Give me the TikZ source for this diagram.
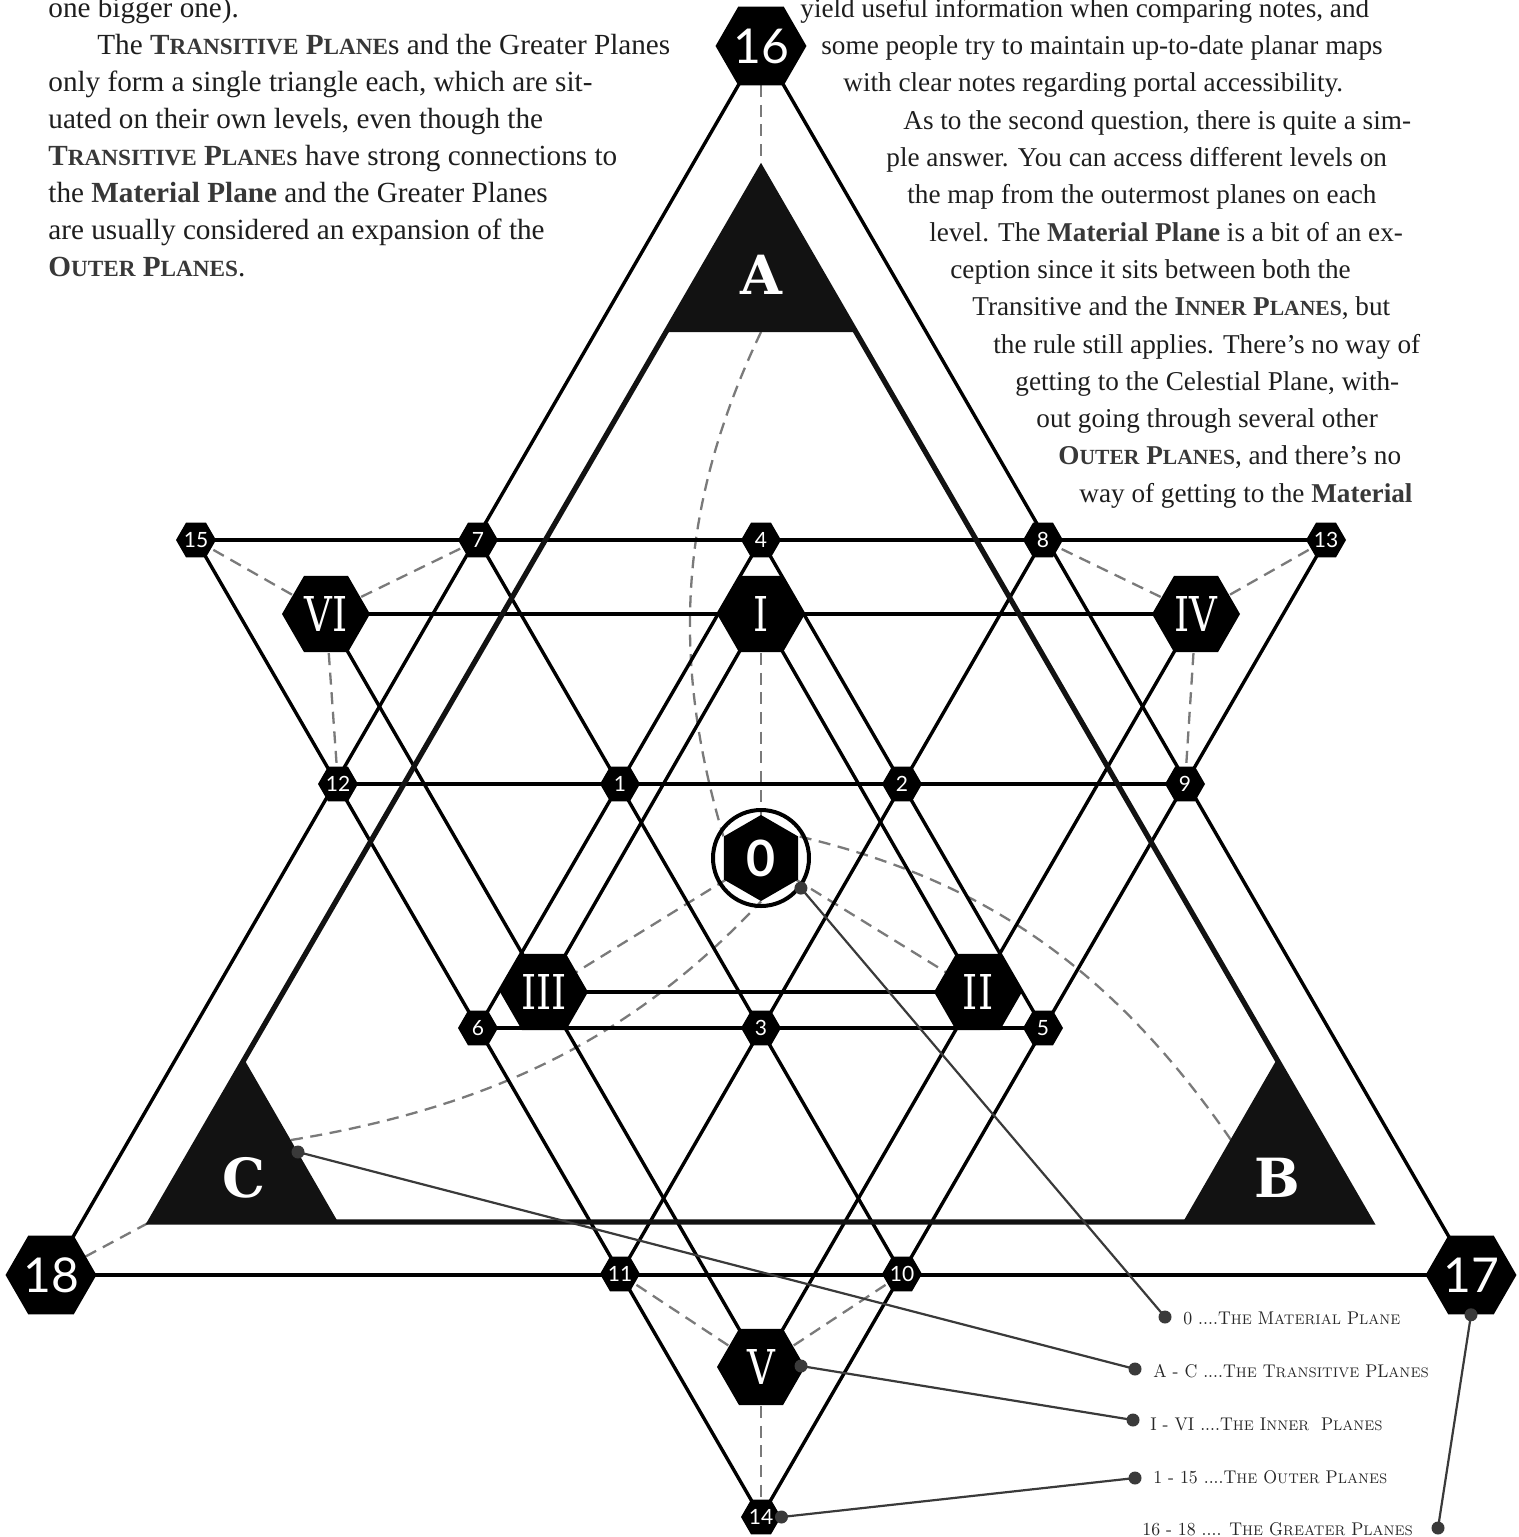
\documentclass[tikz,border=0pt]{standalone}
\usepackage{fontspec}
\usetikzlibrary{shapes.geometric}
\setmainfont{Liberation Serif}
\newfontfamily\numfont{Lato}
\newfontfamily\romfont[FakeStretch=0.8]{DejaVu Serif}
\newfontfamily\abcfont{DejaVu Serif}
\newfontfamily\legfont[FakeStretch=0.94]{Latin Modern Roman}
\definecolor{ink}{HTML}{1E1E1E}
\definecolor{boldc}{HTML}{383838}
\definecolor{dashc}{HTML}{7A7A7A}
\definecolor{legc}{HTML}{3A3A3A}
\definecolor{trifill}{HTML}{121212}
\newcommand\sm[1]{{\fontsize{11.6pt}{12pt}\selectfont #1}}
\newcommand\smr[1]{{\fontsize{10.8pt}{12pt}\selectfont #1}}
\newcommand\bsc[1]{{\bfseries\color{boldc}#1}}
\newcommand\ls[1]{{\fontsize{6.95pt}{8pt}\selectfont #1}}
\pgfdeclarelayer{paper}
\pgfdeclarelayer{dashes}
\pgfdeclarelayer{lines}
\pgfdeclarelayer{top}
\pgfsetlayers{paper,dashes,lines,main,top}
\begin{document}
\begin{tikzpicture}[x=0.5pt,y=-0.5pt,
  hexG/.style={regular polygon,regular polygon sides=6,minimum size=44pt,inner sep=0pt,fill=black,text=white,font=\numfont\fontsize{24pt}{24pt}\selectfont},
  hexI/.style={regular polygon,regular polygon sides=6,minimum size=44pt,inner sep=0pt,fill=black,text=white,font=\romfont\fontsize{24pt}{24pt}\selectfont},
  hexO/.style={regular polygon,regular polygon sides=6,minimum size=20pt,inner sep=0pt,fill=black,text=white,font=\numfont\fontsize{10.5pt}{10.5pt}\selectfont},
  lat/.style={line width=1.7pt,black},
  thicktri/.style={line width=2.6pt,trifill},
  dsh/.style={dashc,line width=1.15pt,dash pattern=on 6pt off 3.8pt},
  leg/.style={legc,line width=1.1pt},
  dot/.style={circle,fill=legc,inner sep=0pt,minimum size=6.5pt},
  abc/.style={inner sep=0pt,text=white,font=\abcfont\bfseries\fontsize{27pt}{27pt}\selectfont},
  bodyl/.style={anchor=base west,inner sep=0pt,text=ink,font=\fontsize{14.6pt}{17pt}\selectfont},
  bodyr/.style={anchor=base west,inner sep=0pt,text=ink,font=\fontsize{13.6pt}{17pt}\selectfont},
  legtext/.style={anchor=base west,inner sep=0pt,text=black!85,font=\legfont\fontsize{9.2pt}{10pt}\selectfont}
]
\useasboundingbox (0,0) rectangle (1519,1537);
\begin{pgfonlayer}{paper}
\fill[white] (0,0) rectangle (1519,1537);
\end{pgfonlayer}

% ---------- transitive triangle ----------
\coordinate (TA) at (761,168);
\coordinate (TB) at (1371,1222);
\coordinate (TC) at (150,1222);
\coordinate (Aedge) at (761,332);
\coordinate (Bedge) at (1231,1140);
\coordinate (Cedge) at (291,1140);
\draw[thicktri] (TA) -- (TB) -- (TC) -- cycle;
\fill[trifill] (TA) -- ++(94,164) -- ++(-188,0) -- cycle;
\fill[trifill] (TB) -- ++(-188,0) -- ++(94,-163) -- cycle;
\fill[trifill] (TC) -- ++(188,0) -- ++(-94,-163) -- cycle;
\node[abc] (la) at (761,275) {A};
\node[abc] (lb) at (1277,1178) {B};
\node[abc] (lc) at (244,1178) {C};

% ---------- nodes ----------
\node[hexG] (g16) at (761,46) {16};
\node[hexG] (g17) at (1471,1275) {17};
\node[hexG] (g18) at (51,1275) {18};
\node[hexO] (o15) at (196,540) {15};
\node[hexO] (o7) at (478,540) {7};
\node[hexO] (o4) at (761,540) {4};
\node[hexO] (o8) at (1043,540) {8};
\node[hexO] (o13) at (1326,540) {13};
\node[hexO] (o12) at (338,784) {12};
\node[hexO] (o1) at (620,784) {1};
\node[hexO] (o2) at (902,784) {2};
\node[hexO] (o9) at (1185,784) {9};
\node[hexO] (o6) at (478,1028) {6};
\node[hexO] (o3) at (761,1028) {3};
\node[hexO] (o5) at (1043,1028) {5};
\node[hexO] (o11) at (620,1274) {11};
\node[hexO] (o10) at (902,1274) {10};
\node[hexO] (o14) at (761,1517) {14};
\node[hexI] (iI) at (761,614) {I};
\node[hexI] (iII) at (978,992) {II};
\node[hexI] (iIII) at (544,992) {III};
\node[hexI] (iIV) at (1196,614) {IV};
\node[hexI] (iV) at (761,1367) {V};
\node[hexI] (iVI) at (326,614) {VI};
\node[regular polygon,regular polygon sides=6,shape border rotate=30,minimum size=43pt,inner sep=0pt,fill=black,text=white,font=\numfont\bfseries\fontsize{25pt}{25pt}\selectfont] (m0) at (761,858) {0};
\node[circle,draw=black,line width=2pt,minimum size=48pt,inner sep=0pt] (m0c) at (761,858) {};

% ---------- solid connectors ----------
\begin{pgfonlayer}{lines}
\draw[lat] (o15.center) -- (o13.center);
\draw[lat] (o12.center) -- (o9.center);
\draw[lat] (o6.center) -- (o5.center);
\draw[lat] (g18.center) -- (g17.center);
\draw[lat] (o15.center) -- (o14.center);
\draw[lat] (o13.center) -- (o14.center);
\draw[lat] (g16.center) -- (g18.center);
\draw[lat] (g16.center) -- (g17.center);
\draw[lat] (o7.center) -- (o10.center);
\draw[lat] (o8.center) -- (o11.center);
\draw[lat] (o4.center) -- (o6.center);
\draw[lat] (o4.center) -- (o5.center);
\draw[lat] (iVI.center) -- (iIV.center);
\draw[lat] (iIII.center) -- (iII.center);
\draw[lat] (iI.center) -- (iIII.center);
\draw[lat] (iI.center) -- (iII.center);
\draw[lat] (iVI.center) -- (iV.center);
\draw[lat] (iIV.center) -- (iV.center);
\end{pgfonlayer}

% ---------- dashed connectors ----------
\begin{pgfonlayer}{dashes}
\draw[dsh] (g16.center) -- (TA);
\draw[dsh] (g18.center) -- (TC);
\draw[dsh] (iVI.center) -- (o15.center);
\draw[dsh] (iVI.center) -- (o7.center);
\draw[dsh] (iVI.center) -- (o12.center);
\draw[dsh] (iIV.center) -- (o8.center);
\draw[dsh] (iIV.center) -- (o13.center);
\draw[dsh] (iIV.center) -- (o9.center);
\draw[dsh] (iV.center) -- (o11.center);
\draw[dsh] (iV.center) -- (o10.center);
\draw[dsh] (iV.center) -- (o14.center);
\draw[dsh] (iI.center) -- (m0.center);
\draw[dsh] (m0.center) -- (iII.center);
\draw[dsh] (m0.center) -- (iIII.center);
\draw[dsh] (Aedge) .. controls (675,512) and (673,667) .. (m0.150);
\draw[dsh] (Bedge) .. controls (1104,956) and (970,877) .. (m0.30);
\draw[dsh] (Cedge) .. controls (504,1105) and (640,1030) .. (m0.270);
\end{pgfonlayer}

% ---------- legend ----------
\begin{pgfonlayer}{top}
\node[dot] (d0) at (m0c.-37) {};
\node[dot] (dC) at (298,1152) {};
\node[dot] (dV) at (801,1366) {};
\node[dot] (d14) at (o14.east) {};
\node[dot] (d17) at (g17.south) {};
\node[dot] (e0) at (1165,1317) {};
\node[dot] (eC) at (1135,1369) {};
\node[dot] (eV) at (1133,1420) {};
\node[dot] (e14) at (1135,1478) {};
\node[dot] (e17) at (1438,1528) {};
\draw[leg] (d0.center) -- (e0.center);
\draw[leg] (dC.center) -- (eC.center);
\draw[leg] (dV.center) -- (eV.center);
\draw[leg] (d14.center) -- (e14.center);
\draw[leg] (d17.center) -- (e17.center);
\end{pgfonlayer}
\node[legtext] (t0) at (1183,1324) {0 ....T\ls{HE} M\ls{ATERIAL} P\ls{LANE}};
\node[legtext] (tC) at (1153,1377) {A - C ....T\ls{HE} T\ls{RANSITIVE} PL\ls{ANES}};
\node[legtext] (tV) at (1150,1430) {I - VI ....T\ls{HE} I\ls{NNER}\ \ P\ls{LANES}};
\node[legtext] (t14) at (1153,1483) {1 - 15 ....T\ls{HE} O\ls{UTER} P\ls{LANES}};
\node[legtext] (t17) at (1142,1535) {16 - 18 .... T\ls{HE} G\ls{REATER} P\ls{LANES}};

% ---------- body text, left ----------
\node[bodyl] (l0) at (48,17) {one bigger one).};
\node[bodyl] (l1) at (97,54) {The \bsc{T\sm{RANSITIVE} P\sm{LANE}}s and the Greater Planes};
\node[bodyl] (l2) at (48,91) {only form a single triangle each, which are sit-};
\node[bodyl] (l3) at (48,128) {uated on their own levels, even though the};
\node[bodyl] (l4) at (48,165) {\bsc{T\sm{RANSITIVE} P\sm{LANE}}s have strong connections to};
\node[bodyl] (l5) at (48,202) {the \bsc{Material Plane} and the Greater Planes};
\node[bodyl] (l6) at (48,239) {are usually considered an expansion of the};
\node[bodyl] (l7) at (48,276) {\bsc{O\sm{UTER} P\sm{LANES}}.};

% ---------- body text, right ----------
\node[bodyr] (r0) at (800,17) {yield useful information when comparing notes, and};
\node[bodyr] (r1) at (821,54) {some people try to maintain up-to-date planar maps};
\node[bodyr] (r2) at (843,91) {with clear notes regarding portal accessibility.};
\node[bodyr] (r3) at (903,129) {As to the second question, there is quite a sim-};
\node[bodyr] (r4) at (886,166) {ple answer. You can access different levels on};
\node[bodyr] (r5) at (907,203) {the map from the outermost planes on each};
\node[bodyr] (r6) at (929,241) {level. The \bsc{Material Plane} is a bit of an ex-};
\node[bodyr] (r7) at (950,278) {ception since it sits between both the};
\node[bodyr] (r8) at (972,315) {Transitive and the \bsc{I\smr{NNER} P\smr{LANES}}, but};
\node[bodyr] (r9) at (993,353) {the rule still applies. There’s no way of};
\node[bodyr] (r10) at (1015,390) {getting to the Celestial Plane, with-};
\node[bodyr] (r11) at (1036,427) {out going through several other};
\node[bodyr] (r12) at (1058,464) {\bsc{O\smr{UTER} P\smr{LANES}}, and there’s no};
\node[bodyr] (r13) at (1079,502) {way of getting to the \bsc{Material}};
\end{tikzpicture}
\end{document}
